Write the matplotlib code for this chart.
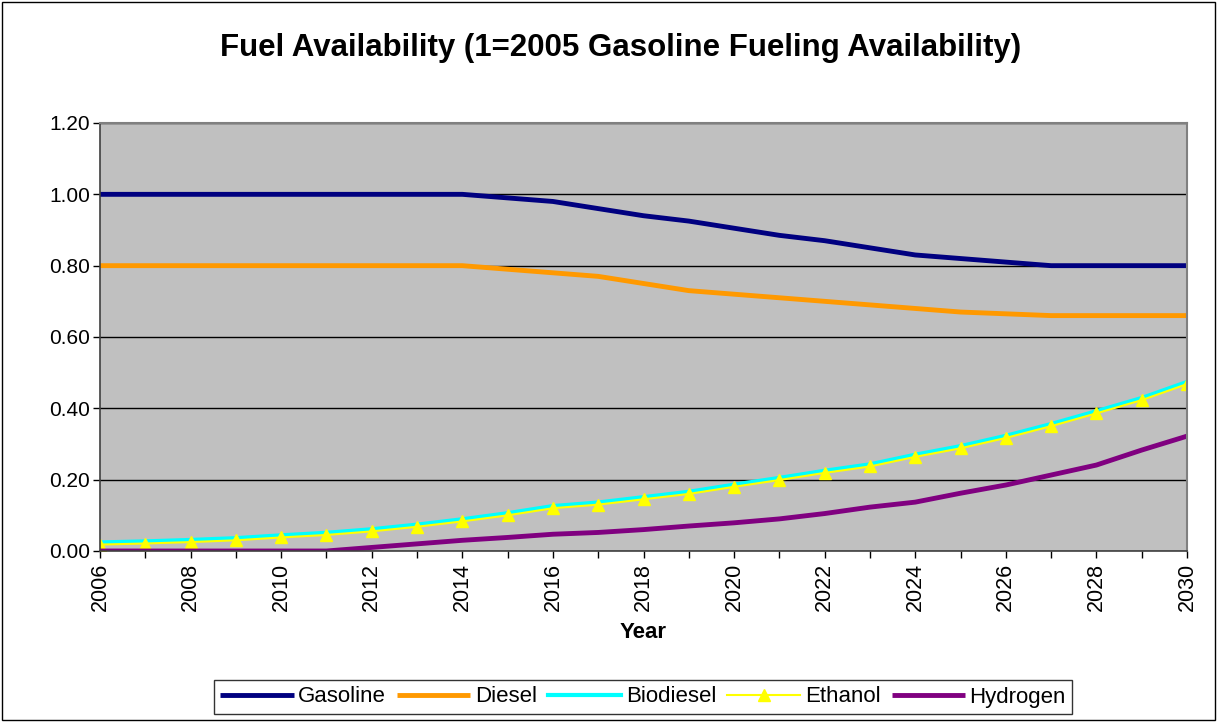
import matplotlib
matplotlib.use("Agg")
import matplotlib.pyplot as plt
from matplotlib.patches import Rectangle

plt.rcParams['font.family'] = ['Liberation Sans', 'DejaVu Sans']

# Data
years = list(range(2006, 2031))
gasoline = [1.00, 1.00, 1.00, 1.00, 1.00, 1.00, 1.00, 1.00, 1.00, 0.99, 0.98, 0.96,
            0.94, 0.925, 0.905, 0.885, 0.87, 0.85, 0.83, 0.82, 0.81, 0.80, 0.80, 0.80, 0.80]
diesel = [0.80, 0.80, 0.80, 0.80, 0.80, 0.80, 0.80, 0.80, 0.80, 0.79, 0.78, 0.77,
          0.75, 0.73, 0.72, 0.71, 0.70, 0.69, 0.68, 0.67, 0.665, 0.66, 0.66, 0.66, 0.66]
ethanol = [0.018, 0.021, 0.025, 0.03, 0.038, 0.045, 0.055, 0.068, 0.083, 0.10, 0.12, 0.13,
           0.145, 0.16, 0.18, 0.199, 0.219, 0.237, 0.264, 0.288, 0.317, 0.35, 0.386, 0.423, 0.468]
biodiesel = [0.024, 0.027, 0.031, 0.036, 0.044, 0.051, 0.061, 0.074, 0.089, 0.106, 0.126, 0.136,
             0.151, 0.166, 0.186, 0.205, 0.225, 0.243, 0.27, 0.294, 0.323, 0.356, 0.392, 0.429, 0.474]
hydrogen = [0.0, 0.0, 0.0, 0.0, 0.0, 0.0, 0.01, 0.02, 0.03, 0.038, 0.047, 0.052,
            0.06, 0.07, 0.079, 0.09, 0.105, 0.123, 0.137, 0.162, 0.185, 0.213, 0.241, 0.283, 0.322]

fig = plt.figure(figsize=(12.17, 7.22), dpi=100)
W, H = 1217, 722
ax = fig.add_axes([100 / W, 1 - 551 / H, (1187 - 100) / W, (551 - 123) / H])
ax.set_facecolor('#C0C0C0')

ax.plot(years, gasoline, color='#000080', lw=3.5, label='Gasoline', solid_capstyle='butt')
ax.plot(years, diesel, color='#FF9900', lw=3.5, label='Diesel', solid_capstyle='butt')
ax.plot(years, biodiesel, color='#00FFFF', lw=3, label='Biodiesel')
ax.plot(years, ethanol, color='#FFFF00', lw=1.5, marker='^', markersize=9,
        markeredgecolor='#FFFF00', label='Ethanol')
ax.plot(years, hydrogen, color='#800080', lw=3.5, label='Hydrogen', solid_capstyle='butt')

ax.set_xlim(2006, 2030)
ax.set_ylim(0, 1.2)
yt = [0, 0.2, 0.4, 0.6, 0.8, 1.0, 1.2]
ax.set_yticks(yt)
ax.set_yticklabels([f'{v:.2f}' for v in yt], fontsize=15)
ax.set_xticks(years, minor=True)
ax.set_xticks(years[::2])
ax.set_xticklabels([str(y) for y in years[::2]], rotation=90, fontsize=15.5)
ax.tick_params(which='both', direction='out', length=5, width=1, color='black')
ax.tick_params(axis='y', pad=2)
ax.grid(axis='y', color='black', lw=1)
ax.set_axisbelow(True)
for s in ['left', 'bottom']:
    ax.spines[s].set_color('#404040')
    ax.spines[s].set_linewidth(1.2)
for s in ['top', 'right']:
    ax.spines[s].set_color('#808080')
    ax.spines[s].set_linewidth(1.5)

ax.set_xlabel('Year', fontsize=16, fontweight='bold', labelpad=8)
fig.text(621 / W, 1 - 48 / H, 'Fuel Availability (1=2005 Gasoline Fueling Availability)',
         ha='center', va='center', fontsize=22.5, fontweight='bold')

leg = ax.legend(loc='center', bbox_to_anchor=(643 / W, 1 - 697 / H), bbox_transform=fig.transFigure,
                ncol=5, fontsize=16, frameon=True, fancybox=False, edgecolor='black',
                handlelength=3.3, handletextpad=0.2, columnspacing=0.5, borderpad=0.3)
leg.get_frame().set_linewidth(1)

fig.patches.append(Rectangle((2 / W, 2 / H), 1 - 4 / W, 1 - 4 / H, transform=fig.transFigure,
                             fill=False, edgecolor='black', lw=1))

fig.savefig('out.png', dpi=100)
